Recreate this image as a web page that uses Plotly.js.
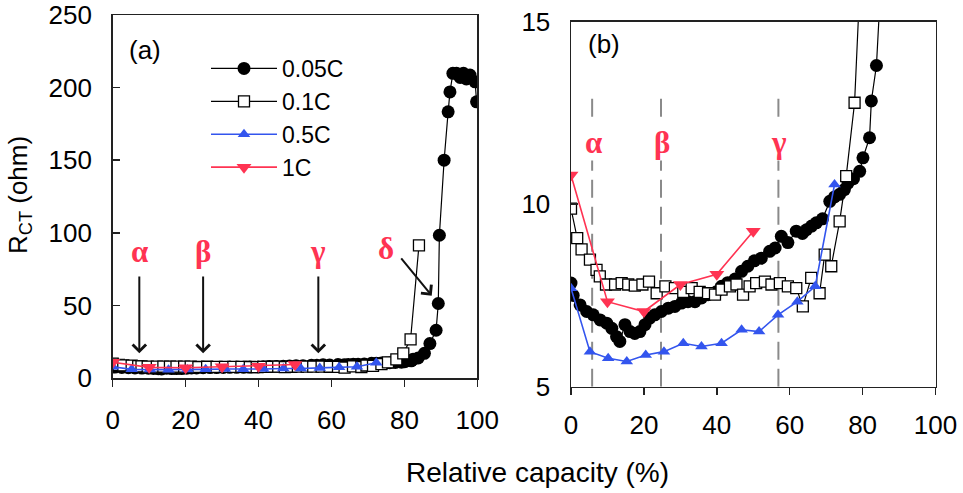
<!DOCTYPE html>
<html><head><meta charset="utf-8">
<script src="https://cdn.plot.ly/plotly-3.0.1.min.js"></script>
<style>html,body{margin:0;padding:0;background:#fff}#chart{width:963px;height:493px}</style>
</head><body><div id="chart"></div><script>
// ---- data ----
const seriesNames = ['0.05C', '0.1C', '0.5C', '1C'];
const cap005 = [0,0.6,2.5,4.3,6.1,8,9.8,11.2,12.5,13.4,14.8,16.2,17.5,18.9,20.3,21.6,23,24.8,26.7,28.5,30.3,32.1,34,35.8,37.6,39.9,41.3,43,45,46.8,48.5,50.3,52.2,54.5,56,57.7,59.5,61.8,63.5,64.6,66,67.3,69,71,72.3,73.7,75,76,77.5,79.2,80.1,81.9,82.4,83.8,85.5,87,88.7,89.3,89.6,90.9,92,92.5,93.3,94.3,95.3,96.2,97,98,99.4,99.8];
const rct005 = [7.84,7.5,7.24,7.06,6.97,6.83,6.74,6.6,6.37,6.24,6.7,6.51,6.46,6.51,6.7,6.88,6.97,7.06,7.15,7.2,7.29,7.33,7.33,7.43,7.52,7.6,7.75,7.85,7.95,8.16,8.3,8.45,8.52,8.71,8.8,9.12,8.95,9.26,9.2,9.3,9.4,9.49,9.6,10.08,10.2,10.27,10.4,10.58,10.7,10.9,11.27,11.82,12.83,13.8,17,23.7,32.9,51.3,98.3,150,183.3,197,209.8,209.8,207,209.8,206,208.6,204,190.2];
const cap01 = [0,1.7,2.9,5.2,7.0,7.9,9.6,12.1,13.9,15.7,17.5,19.6,21.4,23.5,25.9,28.5,30.8,33.1,35.3,37.6,39.5,41.3,43.6,45.4,47.2,49.0,50.8,53.2,55.0,57.3,59.5,61.8,63.6,65.9,68.2,69.6,71.4,73.7,75.5,77.8,79.7,81.7,84.0];
const rct01 = [9.88,9.07,8.76,8.48,8.2,8.02,7.8,7.8,7.84,7.8,7.77,7.8,7.88,7.56,7.75,7.7,7.6,7.7,7.6,7.56,7.52,7.66,7.75,7.8,7.52,7.75,7.84,7.88,7.8,7.84,7.75,7.7,7.2,7.98,7.56,8.62,8.3,9.53,10.77,12.78,17,26.6,91.3];
const cap05 = [0,5.2,10.2,15.3,20.5,25.5,30.8,35.8,41.3,46.8,51.6,56.8,62.1,67.0,72.3];
const rct05 = [7.7,5.96,5.78,5.69,5.87,5.96,6.19,6.1,6.19,6.56,6.51,6.97,7.33,7.75,10.54];
const cap1 = [0,10,20,30,40,50];
const rct1 = [10.8,7.33,7.06,7.8,8.08,9.26];

const phaseLabels = ['α', 'β', 'γ'];
const arrowCapA = [7.3, 24.8, 56.4];     // arrows in panel (a)
const lineCapB = [5.8, 24.7, 56.9];      // dashed lines in panel (b)
const deltaLabel = 'δ';
const xTicks = [0, 20, 40, 60, 80, 100];
const yTicksA = [0, 50, 100, 150, 200, 250];
const yTicksB = [5, 10, 15];

// ---- styles ----
const RED = '#ff3352', BLUE = '#3355ee', BLACK = '#000000';
const FONT = 'Liberation Sans, Arial, sans-serif';
const SERIF = 'Liberation Serif, Times New Roman, serif';
const styles = [
  {marker: {symbol: 'circle', size: 13, color: BLACK}, line: {color: BLACK, width: 1.2}},
  {marker: {symbol: 'square', size: 11, color: '#ffffff', line: {color: BLACK, width: 1.3}}, line: {color: BLACK, width: 1.2}},
  {marker: {symbol: 'triangle-up', size: 11, color: BLUE}, line: {color: BLUE, width: 1.6}},
  {marker: {symbol: 'triangle-down', size: 13, color: RED}, line: {color: RED, width: 1.6}}
];
const xs = [cap005, cap01, cap05, cap1];
const ys = [rct005, rct01, rct05, rct1];

const traces = [];
for (let i = 0; i < 4; i++) {
  traces.push({x: xs[i], y: ys[i], name: seriesNames[i], type: 'scatter', mode: 'lines+markers',
    xaxis: 'x', yaxis: 'y', marker: styles[i].marker, line: styles[i].line, showlegend: true});
}
for (let i = 0; i < 4; i++) {
  traces.push({x: xs[i], y: ys[i], name: seriesNames[i], type: 'scatter', mode: 'lines+markers',
    xaxis: 'x2', yaxis: 'y2', marker: styles[i].marker, line: styles[i].line, showlegend: false});
}

const W = 963, H = 493;
const px = v => v / W, py = v => 1 - v / H;

const axisBase = {
  showgrid: false, zeroline: false, showline: true, linecolor: '#222', linewidth: 1.5,
  mirror: true, ticklen: 7, tickwidth: 1.5, tickcolor: '#222',
  tickfont: {family: FONT, size: 26, color: '#000'}
};

const C = {xanchor: 'center', yanchor: 'middle', showarrow: false};
const greekFont = {family: SERIF, size: 31, color: RED, weight: 'bold'};
const annotations = [];
for (let i = 0; i < phaseLabels.length; i++) {
  annotations.push({xref: 'x', yref: 'y', x: arrowCapA[i], y: 17, axref: 'x', ayref: 'y',
    ax: arrowCapA[i], ay: 71, text: '', showarrow: true, arrowhead: 4, arrowsize: 1.3,
    arrowwidth: 2, arrowcolor: '#111'});
  annotations.push(Object.assign({xref: 'x', yref: 'y', x: arrowCapA[i], y: 87, text: phaseLabels[i],
    font: greekFont}, C));
  annotations.push(Object.assign({xref: 'x2', yref: 'y2', x: lineCapB[i] + 0.3, y: 11.69, text: phaseLabels[i],
    bgcolor: '#ffffff', borderpad: 0, font: greekFont}, C));
}
annotations.push({xref: 'x', yref: 'y', x: 87.5, y: 56.7, axref: 'x', ayref: 'y', ax: 78.8, ay: 83.4,
  text: '', showarrow: true, arrowhead: 4, arrowsize: 1.3, arrowwidth: 2, arrowcolor: '#111'});
annotations.push(Object.assign({xref: 'x', yref: 'y', x: 75, y: 89.4, text: deltaLabel, font: greekFont}, C));
annotations.push(Object.assign({xref: 'paper', yref: 'paper', x: px(145), y: py(50), text: '(a)',
  font: {family: FONT, size: 26, color: '#000'}}, C));
annotations.push(Object.assign({xref: 'paper', yref: 'paper', x: px(604), y: py(44), text: '(b)',
  font: {family: FONT, size: 26, color: '#000'}}, C));
annotations.push(Object.assign({xref: 'paper', yref: 'paper', x: px(537), y: py(472), text: 'Relative capacity (%)',
  font: {family: FONT, size: 28, color: '#000'}}, C));
annotations.push(Object.assign({xref: 'paper', yref: 'paper', x: px(19), y: py(195), text: 'R<sub>CT</sub> (ohm)',
  textangle: -90, font: {family: FONT, size: 26, color: '#000'}}, C));

const shapes = lineCapB.map(c => ({type: 'line', xref: 'x2', yref: 'y2', x0: c, x1: c, y0: 5, y1: 12.95,
  line: {color: '#8a8a8a', width: 2, dash: '18px,9px'}, layer: 'below'}));

const layout = {
  width: W, height: H, margin: {l: 0, r: 0, t: 0, b: 0},
  paper_bgcolor: '#fff', plot_bgcolor: 'rgba(0,0,0,0)',
  showlegend: true,
  legend: {x: px(206), y: py(47), xanchor: 'left', yanchor: 'top', bgcolor: 'rgba(0,0,0,0)',
    font: {family: FONT, size: 23, color: '#000'}, itemwidth: 66, tracegroupgap: 0},
  xaxis: Object.assign({}, axisBase, {domain: [px(112.7), px(477.3)], range: [0, 100], tickvals: xTicks,
    ticks: 'outside', anchor: 'y', ticklabelstandoff: 11}),
  yaxis: Object.assign({}, axisBase, {domain: [py(378), py(15)], range: [0, 250], tickvals: yTicksA,
    ticks: 'inside', anchor: 'x', ticklabelstandoff: 14}),
  xaxis2: Object.assign({}, axisBase, {domain: [px(571), px(935.5)], range: [0, 100], tickvals: xTicks,
    ticks: 'outside', anchor: 'y2', ticklabelstandoff: 8}),
  yaxis2: Object.assign({}, axisBase, {domain: [py(386.7), py(21.7)], range: [5, 15], tickvals: yTicksB,
    ticks: 'inside', anchor: 'x2', ticklabelstandoff: 14}),
  annotations: annotations,
  shapes: shapes
};

Plotly.newPlot('chart', traces, layout, {staticPlot: true, displayModeBar: false});
</script></body></html>
